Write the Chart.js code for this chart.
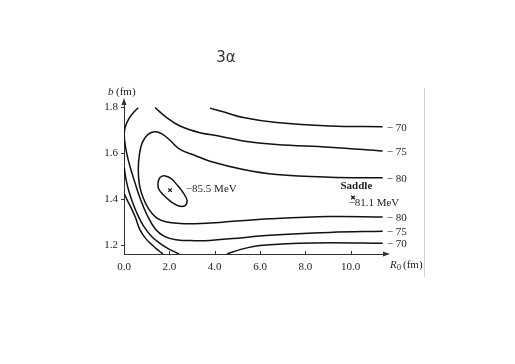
<!DOCTYPE html>
<html>
<head>
<meta charset="utf-8">
<script src="https://cdn.jsdelivr.net/npm/chart.js@4.4.1/dist/chart.umd.min.js"></script>
<style>
  html, body { margin: 0; padding: 0; background: #fff; }
  canvas { display: block; }
</style>
</head>
<body>
<canvas id="contours" width="515" height="364"></canvas>
<script>
// 3 alpha energy surface E(R0, b), contours
var xTicks = [0, 2, 4, 6, 8, 10];
var yTicks = [1.2, 1.4, 1.6, 1.8];

// upper -70 contour
var top70R = [3.79, 4.45, 5.26, 6.73, 9.07, 11.41];
var top70b = [1.795, 1.777, 1.754, 1.732, 1.717, 1.714];

// upper -75 contour
var top75R = [1.37, 1.88, 2.47, 3.35, 4.23, 5.26, 6.73, 9.07, 11.41];
var top75b = [1.797, 1.754, 1.717, 1.688, 1.673, 1.652, 1.637, 1.625, 1.608];

// -80 contour, U shaped round the minimum
var u80R = [11.41, 9.07, 6.73, 5.26, 3.79, 3.13, 2.47, 2.03, 1.67, 1.37, 1.06, 0.81, 0.68, 0.63,
  0.68, 0.84, 1.10, 1.45, 1.89, 2.47, 3.13, 3.79, 4.67, 6.43, 9.07, 11.41];
var u80b = [1.492, 1.494, 1.506, 1.528, 1.564, 1.589, 1.615, 1.655, 1.683, 1.692, 1.681, 1.646, 1.593, 1.528,
  1.462, 1.406, 1.354, 1.316, 1.299, 1.293, 1.292, 1.295, 1.301, 1.313, 1.323, 1.321];

// line from the top left, along the b axis and out to the lower -75 label
var leftR = [0.63, 0.41, 0.20, 0.05, 0.01, 0.07, 0.18, 0.33, 0.51, 0.73, 1.01, 1.37, 1.76, 2.29, 3.13,
  3.79, 5.24, 6.43, 9.07, 11.41];
var leftb = [1.797, 1.775, 1.746, 1.711, 1.676, 1.624, 1.572, 1.519, 1.462, 1.397, 1.331, 1.270, 1.238,
  1.222, 1.218, 1.219, 1.231, 1.242, 1.254, 1.259];

// two steep lines in the lower left corner
var steep1R = [0.01, 0.09, 0.22, 0.40, 0.62, 0.88, 1.23, 1.63, 2.03, 2.42];
var steep1b = [1.537, 1.484, 1.432, 1.379, 1.327, 1.279, 1.235, 1.203, 1.179, 1.16];
var steep2R = [0.01, 0.13, 0.31, 0.51, 0.70, 0.96, 1.28, 1.54, 1.72];
var steep2b = [1.423, 1.397, 1.362, 1.318, 1.266, 1.227, 1.196, 1.174, 1.16];

// lower -70 contour
var low70R = [4.54, 5.11, 5.77, 6.43, 7.75, 9.07, 11.41];
var low70b = [1.160, 1.179, 1.194, 1.200, 1.207, 1.209, 1.207];

// closed -85.5 MeV contour
var minR = [1.50, 1.59, 1.81, 2.07, 2.33, 2.60, 2.78, 2.69, 2.42, 2.07, 1.72, 1.52, 1.50];
var minb = [1.471, 1.493, 1.500, 1.489, 1.462, 1.428, 1.393, 1.371, 1.369, 1.388, 1.419, 1.445, 1.471];

// marked points: minimum and saddle
var markR = [2.03, 10.1];
var markb = [1.438, 1.406];

// labels at the right hand ends of the contours
var endLabels = ['\u2212 70', '\u2212 75', '\u2212 80', '\u2212 80', '\u2212 75', '\u2212 70'];
var endR = [top70R[5], top75R[8], u80R[0], u80R[25], leftR[19], low70R[6]];
var endb = [top70b[5], top75b[8], u80b[0], u80b[25], leftb[19], low70b[6]];

function pts(rs, bs) {
  return rs.map(function (r, i) { return { x: r, y: bs[i] }; });
}

function contour(rs, bs) {
  return {
    data: pts(rs, bs),
    showLine: true,
    borderColor: '#111',
    borderWidth: 1.5,
    pointRadius: 0,
    tension: 0.4,
    fill: false
  };
}

var serif = '"Liberation Serif", "DejaVu Serif", serif';

var annotate = {
  id: 'annotate',
  afterDraw: function (chart) {
    var ctx = chart.ctx, xs = chart.scales.x, ys = chart.scales.y, a = chart.chartArea;
    ctx.save();

    // small inward tick marks
    ctx.strokeStyle = '#333';
    ctx.lineWidth = 1;
    ctx.beginPath();
    xTicks.forEach(function (v) {
      if (v === 0) return;
      var px = Math.round(xs.getPixelForValue(v)) + 0.5;
      ctx.moveTo(px, a.bottom);
      ctx.lineTo(px, a.bottom - 3);
    });
    yTicks.forEach(function (v) {
      var py = Math.round(ys.getPixelForValue(v)) + 0.5;
      ctx.moveTo(a.left - 3, py);
      ctx.lineTo(a.left + 1, py);
    });
    ctx.stroke();

    // arrow heads
    ctx.fillStyle = '#333';
    ctx.beginPath();
    ctx.moveTo(a.left, a.top - 3);
    ctx.lineTo(a.left - 2.5, a.top + 4);
    ctx.lineTo(a.left + 2.5, a.top + 4);
    ctx.closePath();
    ctx.fill();
    ctx.beginPath();
    ctx.moveTo(a.right + 3, a.bottom);
    ctx.lineTo(a.right - 4, a.bottom - 2.5);
    ctx.lineTo(a.right - 4, a.bottom + 2.5);
    ctx.closePath();
    ctx.fill();

    // contour end labels
    ctx.fillStyle = '#222';
    ctx.font = '11px ' + serif;
    ctx.textBaseline = 'middle';
    ctx.textAlign = 'left';
    endLabels.forEach(function (t, i) {
      ctx.fillText(t, xs.getPixelForValue(endR[i]) + 4, ys.getPixelForValue(endb[i]) + 1);
    });

    // minimum and saddle texts
    ctx.fillText('\u221285.5 MeV', xs.getPixelForValue(2.73), ys.getPixelForValue(1.442));
    ctx.fillText('\u221281.1 MeV', xs.getPixelForValue(9.9), ys.getPixelForValue(1.382));
    ctx.textAlign = 'center';
    ctx.font = 'bold 11px ' + serif;
    ctx.fillText('Saddle', xs.getPixelForValue(10.25), ys.getPixelForValue(1.455));

    // axis titles
    ctx.textAlign = 'left';
    ctx.font = 'italic 11px ' + serif;
    ctx.fillText('b', a.left - 16, a.top - 9);
    ctx.font = '11px ' + serif;
    ctx.fillText('(fm)', a.left - 8, a.top - 9);
    ctx.font = 'italic 11px ' + serif;
    ctx.fillText('R', a.right + 3, a.bottom + 11);
    ctx.font = '8px ' + serif;
    ctx.fillText('0', a.right + 10, a.bottom + 14);
    ctx.font = '11px ' + serif;
    ctx.fillText('(fm)', a.right + 16, a.bottom + 11);

    // scan edge on the right
    ctx.strokeStyle = '#d4d4d4';
    ctx.beginPath();
    ctx.moveTo(a.right + 37.5, a.top - 13);
    ctx.lineTo(a.right + 37.5, a.bottom + 23);
    ctx.stroke();

    // title
    ctx.fillStyle = '#333';
    ctx.font = '15px "DejaVu Sans", sans-serif';
    ctx.textAlign = 'center';
    ctx.fillText('3\u03b1', 226, 58);
    ctx.restore();
  }
};

var datasets = [
  contour(top70R, top70b),
  contour(top75R, top75b),
  contour(u80R, u80b),
  contour(leftR, leftb),
  contour(steep1R, steep1b),
  contour(steep2R, steep2b),
  contour(low70R, low70b),
  contour(minR, minb),
  {
    data: pts(markR, markb),
    showLine: false,
    pointStyle: 'crossRot',
    pointRadius: 2.5,
    borderColor: '#111',
    borderWidth: 1.2
  }
];

var tickFont = { family: serif, size: 11 };

var chart = new Chart(document.getElementById('contours'), {
  type: 'scatter',
  data: { datasets: datasets },
  options: {
    responsive: false,
    animation: false,
    devicePixelRatio: 1,
    layout: { padding: { left: 0, right: 128, top: 101, bottom: 0 } },
    plugins: {
      legend: { display: false },
      tooltip: { enabled: false },
      title: { display: false }
    },
    scales: {
      x: {
        type: 'linear',
        min: 0,
        max: 11.6,
        afterBuildTicks: function (s) { s.ticks = xTicks.map(function (v) { return { value: v }; }); },
        afterFit: function (s) { s.height = 110; },
        grid: { display: true, drawOnChartArea: false, drawTicks: false },
        border: { display: true, color: '#333', width: 1 },
        ticks: {
          padding: 7,
          color: '#222',
          font: tickFont,
          maxRotation: 0,
          callback: function (v) { return v.toFixed(1); }
        }
      },
      y: {
        type: 'linear',
        min: 1.16,
        max: 1.826,
        afterBuildTicks: function (s) { s.ticks = yTicks.map(function (v) { return { value: v }; }); },
        afterFit: function (s) { s.width = 124; },
        grid: { display: true, drawOnChartArea: false, drawTicks: false },
        border: { display: true, color: '#333', width: 1 },
        ticks: {
          padding: 6,
          color: '#222',
          font: tickFont,
          callback: function (v) { return v.toFixed(1); }
        }
      }
    }
  },
  plugins: [annotate]
});
</script>
</body>
</html>
